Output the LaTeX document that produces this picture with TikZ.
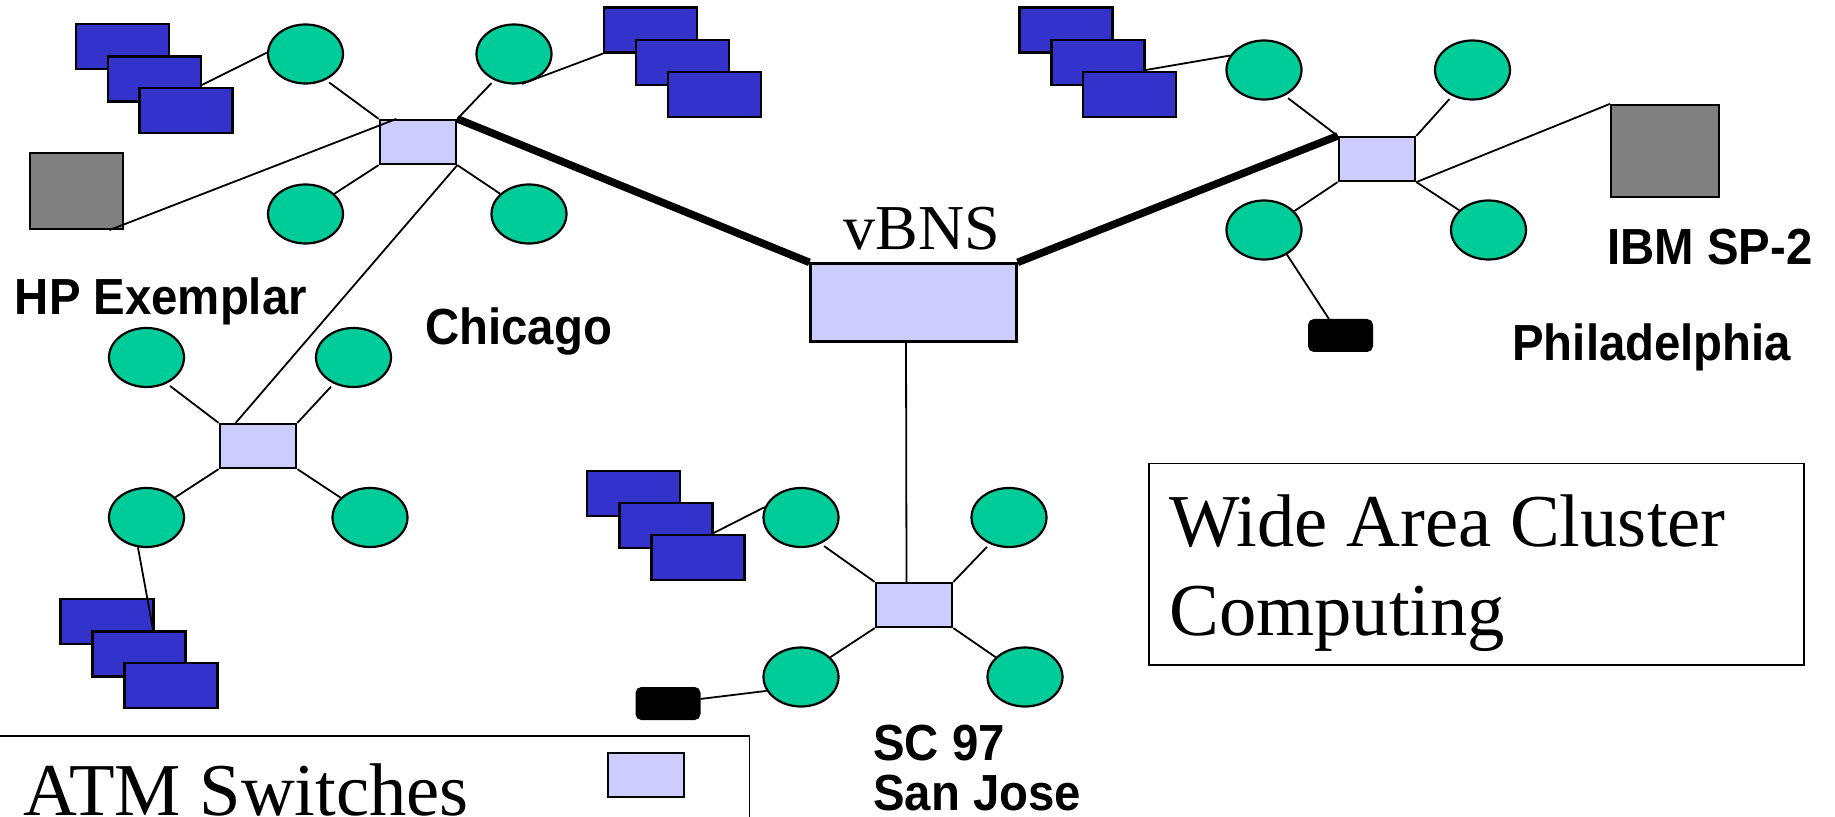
\documentclass[tikz,border=0pt]{standalone}
\usepackage{fontspec}
\usepackage{graphicx}
\setmainfont{Liberation Serif}
\newfontfamily\labfont{Liberation Sans}
\usetikzlibrary{shapes.geometric}
\definecolor{nodegreen}{RGB}{0,204,153}
\definecolor{hostblue}{RGB}{51,51,204}
\definecolor{swfill}{RGB}{204,204,255}
\definecolor{srvgray}{RGB}{128,128,128}
\newcommand{\citytext}[1]{\scalebox{0.97}[1.04]{#1}}
\begin{document}
\begin{tikzpicture}[x=0.5pt,y=-0.5pt,
  ws/.style={ellipse, draw=black, line width=1.1pt, fill=nodegreen, minimum width=37.5pt, minimum height=29.5pt, inner sep=0pt},
  host/.style={rectangle, draw=black, line width=1.1pt, fill=hostblue, minimum width=46.5pt, minimum height=22.5pt, inner sep=0pt},
  atm/.style={rectangle, draw=black, line width=1.1pt, fill=swfill, minimum width=38.25pt, minimum height=22pt, inner sep=0pt},
  super/.style={rectangle, draw=black, line width=1.1pt, fill=srvgray, inner sep=0pt},
  dev/.style={rectangle, rounded corners=2.5pt, draw=black, line width=1pt, fill=black, minimum width=31.5pt, minimum height=15.5pt, inner sep=0pt},
  link/.style={line width=0.9pt},
  trunk/.style={line width=3.8pt},
  city/.style={anchor=base west, inner sep=0pt, font={\labfont\bfseries\fontsize{24.4pt}{28pt}\selectfont}},
  big/.style={anchor=base west, inner sep=0pt, font={\fontsize{37.3pt}{44pt}\selectfont}},
  frame/.style={rectangle, draw=black, line width=0.9pt, inner sep=0pt}
]
\useasboundingbox (0,0) rectangle (1835,817);

% ---------------- Chicago
\node[atm] (chS) at (418,142) {};
\node[ws] (chE1) at (305.5,54) {};
\node[ws] (chE2) at (514,54) {};
\node[ws] (chE3) at (305.5,214) {};
\node[ws] (chE4) at (529,214) {};
\node[host] (a1) at (122.5,46.5) {};
\node[host] (a2) at (154.5,79) {};
\node[host] (a3) at (186,110.5) {};
\node[host] (b1) at (650.5,30) {};
\node[host] (b2) at (682.5,62.5) {};
\node[host] (b3) at (714.5,94.5) {};
\node[super, minimum width=46.5pt, minimum height=38pt] (hp) at (76.5,191) {};

% ---------------- vBNS
\node[atm, minimum width=103pt, minimum height=39pt] (vbns) at (913.5,302.5) {};
\node[anchor=base west, inner sep=0pt, font={\fontsize{32pt}{34pt}\selectfont}] (vbnslab) at (843,250) {vBNS};

% ---------------- Philadelphia
\node[atm] (phS) at (1377,159) {};
\node[ws] (phE1) at (1264,70) {};
\node[ws] (phE2) at (1472.5,70) {};
\node[ws] (phE3) at (1264,230) {};
\node[ws] (phE4) at (1488.5,230) {};
\node[host] (c1) at (1066,30) {};
\node[host] (c2) at (1098,62.5) {};
\node[host] (c3) at (1129.5,94.5) {};
\node[super, minimum width=54pt, minimum height=46pt] (ibm) at (1665,151) {};
\node[dev] (phB) at (1340.5,335.5) {};

% ---------------- lower left cluster
\node[atm] (llS) at (258,446) {};
\node[ws] (llE1) at (146.5,357.5) {};
\node[ws] (llE2) at (353.5,357.5) {};
\node[ws] (llE3) at (146.5,517.5) {};
\node[ws] (llE4) at (370,517.5) {};
\node[host] (e1) at (107,621.5) {};
\node[host] (e2) at (139,654) {};
\node[host] (e3) at (171,685.5) {};

% ---------------- San Jose
\node[atm] (sjS) at (914,605) {};
\node[ws] (sjE1) at (801,517.5) {};
\node[ws] (sjE2) at (1009,517.5) {};
\node[ws] (sjE3) at (801,677) {};
\node[ws] (sjE4) at (1025,677) {};
\node[host] (d1) at (633.5,493.5) {};
\node[host] (d2) at (666,525.5) {};
\node[host] (d3) at (698,557.5) {};
\node[dev] (sjB) at (668,703.5) {};

% ---------------- connectors
\draw[link] (a2.-7) -- (chE1.178);
\draw[link, shorten >=2pt] (chS.north west) -- (chE1.308);
\draw[link, shorten >=2pt] (chS.north east) -- (chE2.233);
\draw[link] (chS.south west) -- (chE3.35);
\draw[link] (chS.south east) -- (chE4.145);
\draw[link] (chE2.285) -- (b1.south west);
\draw[link] (hp.-50.5) -- (chS.133);
\draw[link] (chS.south east) -- (llS.134);
\draw[trunk] (chS.north east) -- (vbns.north west);
\draw[trunk] (vbns.north east) -- (phS.north west);
\draw[link] ([xshift=-3.75pt]vbns.south) -- ([xshift=-3.75pt]sjS.north);

\draw[link, shorten >=2pt] (phS.north west) -- (phE1.309);
\draw[link, shorten >=2pt] (phS.north east) -- (phE2.232);
\draw[link] (phS.south west) -- (phE3.32);
\draw[link] (phS.south east) -- (phE4.146);
\draw[link] (c2.-9) -- (phE1.157);
\draw[link] (phS.south east) -- (ibm.north west);
\draw[link] (phE3.313) -- (phB.125);

\draw[link, shorten >=2pt] (llS.north west) -- (llE1.308);
\draw[link, shorten >=2pt] (llS.north east) -- (llE2.233);
\draw[link] (llS.south west) -- (llE3.35);
\draw[link] (llS.south east) -- (llE4.146);
\draw[link] (llE3.254) -- (e2.59);

\draw[link, shorten >=2pt] (sjS.north west) -- (sjE1.307);
\draw[link, shorten >=2pt] (sjS.north east) -- (sjE2.234);
\draw[link] (sjS.south west) -- (sjE3.34);
\draw[link] (sjS.south east) -- (sjE4.146);
\draw[link] (d2.-9) -- (sjE1.164);
\draw[link] (sjB.8) -- (sjE3.202);

% ---------------- labels
\node[city] (hplab) at (14.5,315) {\citytext{HP Exemplar}};
\node[city] (chlab) at (425,345) {\citytext{Chicago}};
\node[city] (ibmlab) at (1607,265) {\citytext{IBM SP-2}};
\node[city] (phlab) at (1512,361) {\citytext{Philadelphia}};
\node[city] (sclab) at (873,760) {\citytext{SC 97}};
\node[city] (sjlab) at (873,810) {\citytext{San Jose}};

% ---------------- boxes
\node[frame, minimum width=327.5pt, minimum height=100.75pt] (wabox) at (1476.25,564.2) {};
\node[big] (wa1) at (1169,546) {Wide Area Cluster};
\node[big] (wa2) at (1169,635) {Computing};

\node[frame, anchor=north west, minimum width=379.25pt, minimum height=60pt] (legend) at (-10,735) {};
\node[atm] (legsw) at (646,775) {};
\node[big] (legtext) at (23,815) {ATM Switches};
\end{tikzpicture}
\end{document}
